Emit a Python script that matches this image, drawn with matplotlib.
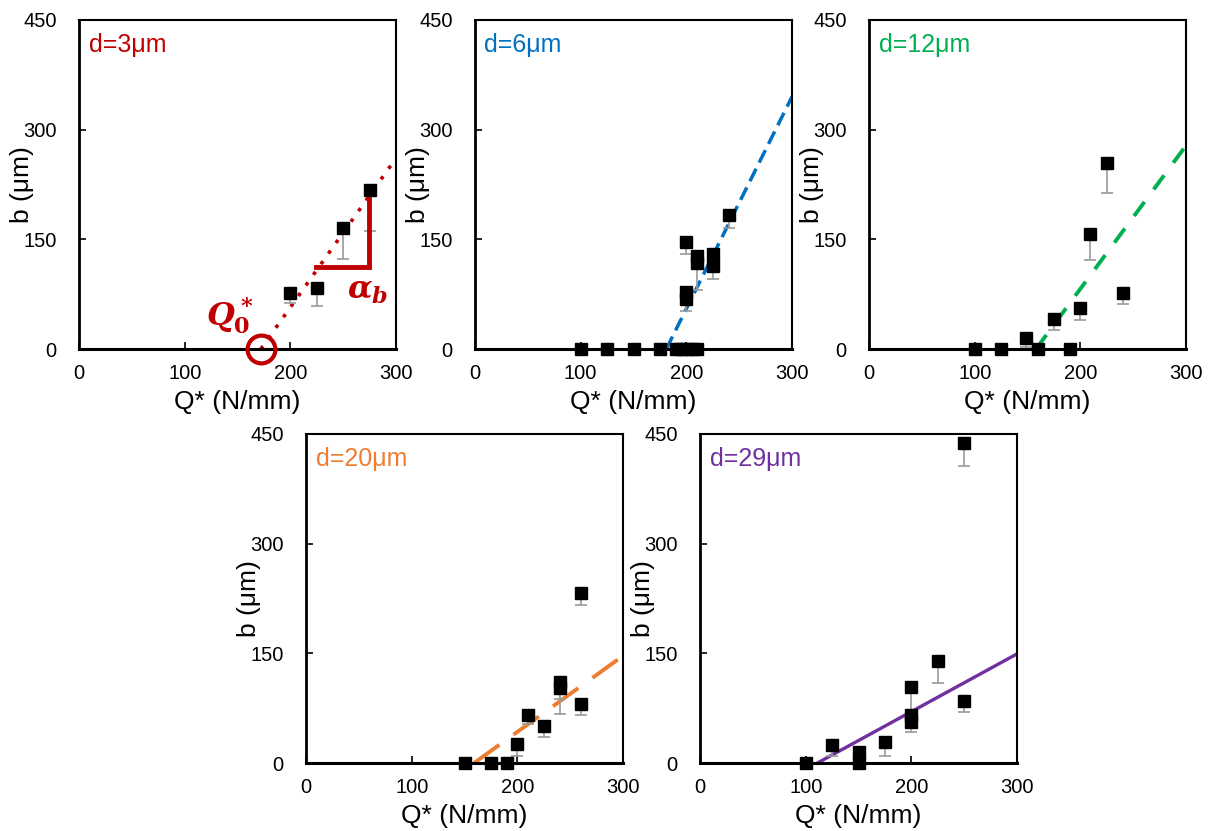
import numpy as np
import matplotlib
matplotlib.use("Agg")
from matplotlib import pyplot as plt

plt.rcParams["font.family"] = ["Liberation Sans", "DejaVu Sans"]
plt.rcParams["mathtext.fontset"] = "custom"
plt.rcParams["mathtext.it"] = "DejaVu Serif:italic:bold"
plt.rcParams["mathtext.rm"] = "DejaVu Serif:bold"
plt.rcParams["mathtext.bf"] = "DejaVu Serif:bold"

# panel titles and colours
labels = ["d=3μm", "d=6μm", "d=12μm", "d=20μm", "d=29μm"]
colors = ["#C00000", "#0070C0", "#00B050", "#ED7D31", "#7030A0"]

# measured points: Q* (N/mm), b (um), lower error (um)
q1 = [200, 225, 250, 275]
b1 = [77, 84, 165, 217]
e1 = [14, 25, 42, 56]

q2 = [100, 125, 150, 175, 190, 195, 200, 205, 210, 200, 210, 210, 200, 200, 225, 225, 240]
b2 = [0, 0, 0, 0, 0, 0, 0, 0, 0, 147, 127, 118, 78, 68, 130, 113, 183]
e2 = [0, 0, 0, 0, 0, 0, 0, 0, 0, 17, 15, 37, 10, 16, 10, 17, 18]

q3 = [100, 125, 160, 190, 149, 175, 200, 209, 225, 240]
b3 = [0, 0, 0, 0, 15, 41, 56, 157, 255, 77]
e3 = [0, 0, 0, 0, 12, 15, 16, 35, 42, 15]

q4 = [150, 175, 190, 200, 210, 225, 240, 240, 260, 260]
b4 = [0, 0, 0, 26, 66, 50, 111, 102, 81, 232]
e4 = [0, 0, 0, 16, 13, 14, 24, 35, 15, 16]

q5 = [100, 125, 150, 150, 175, 200, 200, 200, 225, 250, 250]
b5 = [0, 24, 15, 0, 29, 104, 65, 56, 140, 85, 437]
e5 = [0, 15, 0, 0, 20, 36, 10, 13, 31, 15, 31]

# linear fits: threshold Q0* and slope alpha_b
q0 = [172, 181, 158, 159, 111]
alpha = [2.04, 2.9, 1.96, 1.04, 0.79]

linestyles = [(0, (1, 2.6)), (0, (4, 2)), (0, (4.5, 4)), (0, (8, 4.5)), "-"]
linewidths = [2.6, 2.5, 2.8, 2.8, 2.4]

xticks = [0, 100, 200, 300]
yticks = [0, 150, 300, 450]

fig = plt.figure(figsize=(12.12, 8.31), dpi=100)
w, h = 0.2616, 0.396
positions = [
    (0.0652, 0.580), (0.3919, 0.580), (0.7170, 0.580),
    (0.2525, 0.0818), (0.5776, 0.0818),
]
data = [(q1, b1, e1), (q2, b2, e2), (q3, b3, e3), (q4, b4, e4), (q5, b5, e5)]

axes = []
for i, (pos, (q, b, e)) in enumerate(zip(positions, data)):
    ax = fig.add_axes([pos[0], pos[1], w, h])
    axes.append(ax)
    ax.set_xlim(0, 300)
    ax.set_ylim(0, 450)
    ax.set_xticks(xticks)
    ax.set_yticks(yticks)
    ax.tick_params(direction="in", length=5, width=1.2, labelsize=14.5)
    ax.tick_params(axis="x", pad=11)
    ax.tick_params(axis="y", pad=16)
    for s in ax.spines.values():
        s.set_linewidth(1.5)
    ax.spines["bottom"].set_linewidth(2.2)
    ax.spines["left"].set_linewidth(2.0)

    # fit line
    xs = np.array([q0[i], 300])
    ys = alpha[i] * (xs - q0[i])
    ax.plot(xs, ys, color=colors[i], ls=linestyles[i], lw=linewidths[i], zorder=2)

    err = np.array(e)
    ax.errorbar(q, b, yerr=[err, np.zeros_like(err)], fmt="none",
                ecolor="#9a9a9a", elinewidth=1.2, capsize=4, capthick=1.2, zorder=3)
    ax.plot(q, b, "s", color="black", ms=8, zorder=4, clip_on=False)

    ax.text(0.03, 0.925, labels[i], transform=ax.transAxes, color=colors[i],
            fontsize=18, va="center", ha="left")
    ax.set_xlabel("Q* (N/mm)", fontsize=19)
    ax.set_ylabel("b (μm)", fontsize=19)
    ax.xaxis.set_label_coords(0.5, -0.125)
    ax.yaxis.set_label_coords(-0.142, 0.5)

# annotations on the first panel
ax = axes[0]
ax.plot([q0[0]], [0], "o", ms=20, mfc="none", mec=colors[0], mew=3, clip_on=False, zorder=5)
ax.plot([224, 274, 274], [112, 112, 208], color=colors[0], lw=3.5, solid_joinstyle="miter", zorder=3)
ax.text(143, 46, r"$Q_0^*$", color=colors[0], fontsize=23, ha="center", va="center")
ax.text(273, 80, r"$\alpha_b$", color=colors[0], fontsize=23, ha="center", va="center")

fig.savefig("out.png", dpi=100)
